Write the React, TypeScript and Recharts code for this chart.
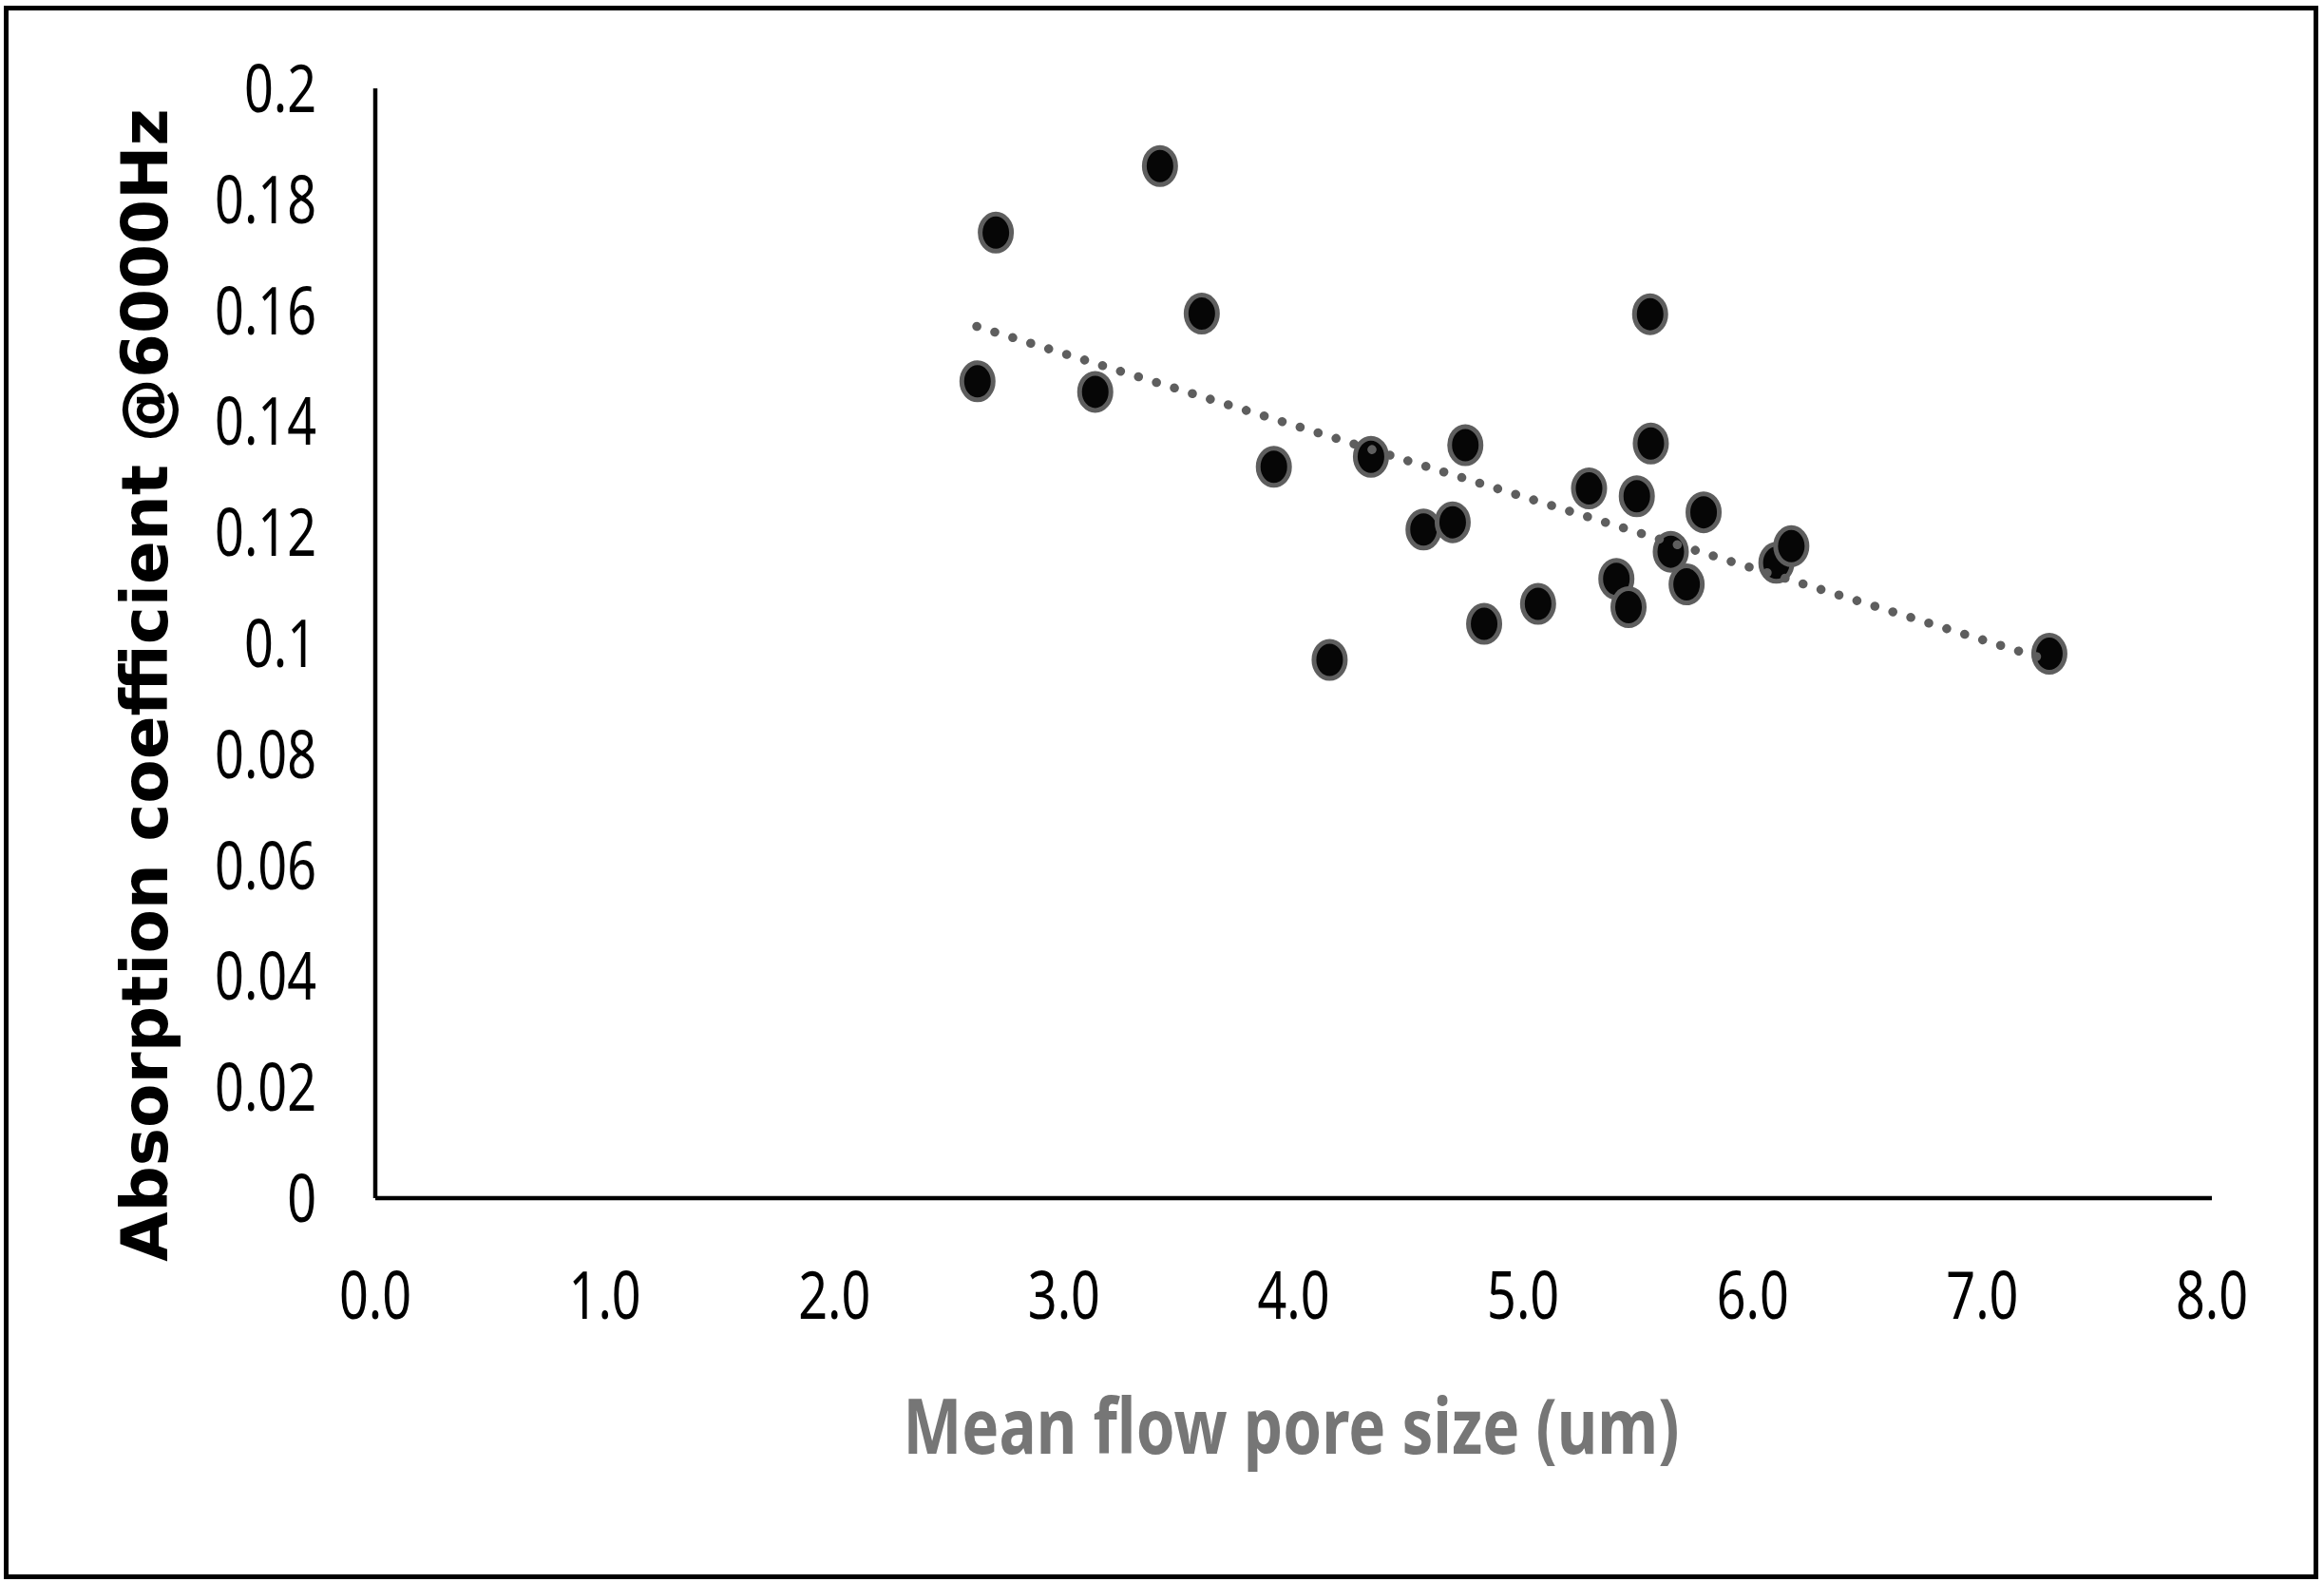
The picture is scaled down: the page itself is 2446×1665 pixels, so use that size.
import React from "react";
import { ScatterChart, Scatter, XAxis, YAxis } from "recharts";

// Mean flow pore size (um)
const poreSize = [2.623, 2.703, 3.136, 3.418, 3.6, 3.914, 4.157, 4.337, 4.566, 4.693, 4.748, 4.83, 5.065, 5.287, 5.406, 5.459, 5.495, 5.553, 5.556, 5.643, 5.712, 5.786, 6.103, 6.168, 7.292];
// Absorption coefficient @6000Hz
const absorption = [0.1472, 0.174, 0.1453, 0.186, 0.1594, 0.1318, 0.097, 0.1336, 0.1205, 0.1218, 0.1357, 0.1035, 0.1071, 0.1279, 0.1116, 0.1065, 0.1265, 0.1593, 0.136, 0.1165, 0.1106, 0.1236, 0.1145, 0.1175, 0.0981];
// Linear trendline end points (as drawn)
const trendX = [2.62, 7.29];
const trendY = [0.1571, 0.0969];

const xTicks = [0, 1, 2, 3, 4, 5, 6, 7, 8];
const xTickLabels = ["0.0", "1.0", "2.0", "3.0", "4.0", "5.0", "6.0", "7.0", "8.0"];
const yTicks = [0, 0.02, 0.04, 0.06, 0.08, 0.1, 0.12, 0.14, 0.16, 0.18, 0.2];
const yTickLabels = ["0", "0.02", "0.04", "0.06", "0.08", "0.1", "0.12", "0.14", "0.16", "0.18", "0.2"];

const xTitle = "Mean flow pore size (um)";
const yTitle = "Absorption coefficient @6000Hz";

const points = poreSize.map((x, i) => ({ x, y: absorption[i] }));
const trend = trendX.map((x, i) => ({ x, y: trendY[i] }));

const W = 2446;
const H = 1665;
const PLOT_LEFT = 395;
const PLOT_RIGHT = 2328;
const PLOT_TOP = 93;
const PLOT_BOTTOM = 1261;
const AXIS_SIZE = 40;

const tickFont = "'Noto Sans', 'DejaVu Sans', sans-serif";

const YTick = (props: any) => {
  const { y, payload } = props;
  const idx = yTicks.indexOf(payload.value);
  const label = idx >= 0 ? yTickLabels[idx] : String(payload.value);
  return (
    <g transform={`translate(333,${y})`}>
      <text transform="scale(0.77,1)" x={0} y={25} textAnchor="end" fontSize={70} fontFamily={tickFont} fill="#000">
        {label}
      </text>
    </g>
  );
};

const XTick = (props: any) => {
  const { x, payload } = props;
  const idx = xTicks.indexOf(payload.value);
  const label = idx >= 0 ? xTickLabels[idx] : String(payload.value);
  return (
    <g transform={`translate(${x},1388)`}>
      <text transform="scale(0.77,1)" x={0} y={0} textAnchor="middle" fontSize={70} fontFamily={tickFont} fill="#000">
        {label}
      </text>
    </g>
  );
};

const Marker = (props: any) => {
  const { cx, cy } = props;
  if (cx == null || cy == null) return <g />;
  return <ellipse cx={cx} cy={cy} rx={16.5} ry={19.5} fill="#060606" stroke="#5e5e5e" strokeWidth={5} />;
};

const NoShape = () => <g />;

const XTitle = () => (
  <g transform="translate(1359,1530)">
    <text transform="scale(0.82,1)" x={0} y={0} textAnchor="middle" fontSize={80} fontWeight="bold" fontFamily="'Noto Sans', sans-serif" fill="#767676">
      {xTitle}
    </text>
  </g>
);

const YTitle = () => (
  <text
    x={176}
    y={721}
    transform="rotate(-90,176,721)"
    textAnchor="middle"
    fontSize={67.5}
    fontWeight="bold"
    fontFamily="'DejaVu Sans', sans-serif"
    fill="#000"
  >
    {yTitle}
  </text>
);

export default function App() {
  return (
    <div style={{ position: "absolute", left: 0, top: 0, width: W, height: H, background: "#fff" }}>
      <div
        style={{
          position: "absolute",
          left: 4,
          top: 6,
          width: 2436,
          height: 1656,
          border: "5px solid #000",
          boxSizing: "border-box",
        }}
      />
      <div style={{ position: "absolute", left: 0, top: 0 }}>
        <ScatterChart
          width={W}
          height={H}
          margin={{
            left: PLOT_LEFT - AXIS_SIZE,
            right: W - PLOT_RIGHT,
            top: PLOT_TOP,
            bottom: H - PLOT_BOTTOM - AXIS_SIZE,
          }}
        >
          <XAxis
            type="number"
            dataKey="x"
            domain={[0, 8]}
            ticks={xTicks}
            interval={0}
            height={AXIS_SIZE}
            tickLine={false}
            axisLine={{ stroke: "#000", strokeWidth: 4.5 }}
            tick={<XTick />}
            label={{ content: () => <XTitle /> }}
          />
          <YAxis
            type="number"
            dataKey="y"
            domain={[0, 0.2]}
            ticks={yTicks}
            interval={0}
            width={AXIS_SIZE}
            tickLine={false}
            axisLine={{ stroke: "#000", strokeWidth: 4.5 }}
            tick={<YTick />}
            label={{ content: () => <YTitle /> }}
          />
          <Scatter data={points} shape={<Marker />} isAnimationActive={false} />
          <Scatter
            data={trend}
            shape={<NoShape />}
            line={{ stroke: "#5e5e5e", strokeWidth: 9.5, strokeDasharray: "0.1 19.7", strokeLinecap: "round" }}
            isAnimationActive={false}
          />
        </ScatterChart>
      </div>
    </div>
  );
}
